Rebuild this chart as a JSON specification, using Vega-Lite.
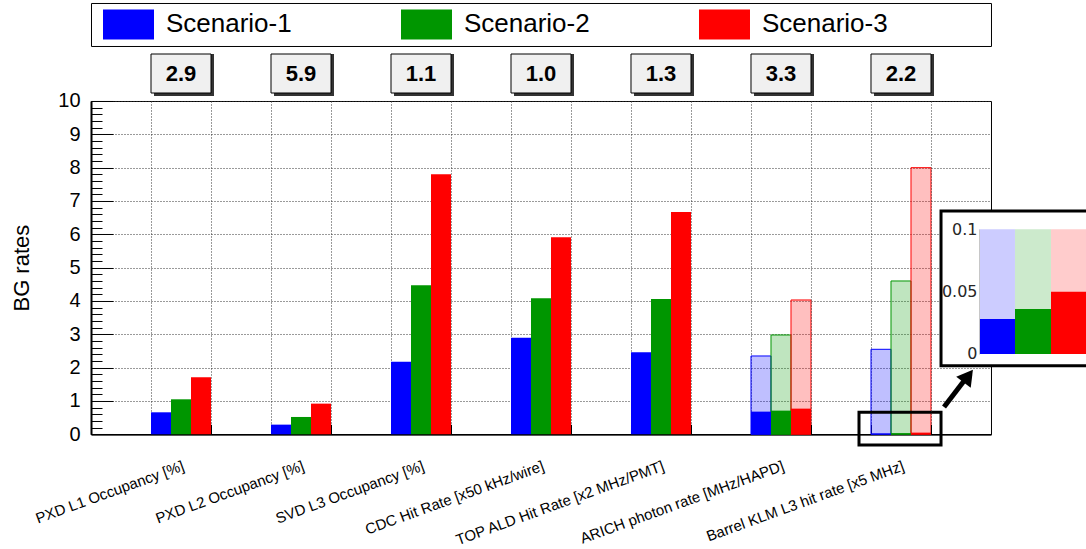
{
  "$schema": "https://vega.github.io/schema/vega-lite/v6.json",
  "width": 900,
  "height": 333.3,
  "autosize": {"type": "none"},
  "padding": {"left": 91, "top": 101, "right": 95, "bottom": 115},
  "background": "white",
  "config": {
    "font": "Liberation Sans",
    "view": {"stroke": "black", "strokeWidth": 1},
    "axis": {"labelFont": "Liberation Sans", "titleFont": "Liberation Sans", "labelColor": "black", "titleColor": "black", "tickColor": "black", "domainColor": "black"}
  },
  "datasets": {
    "rates": [
      {"det": "PXD L1 Occupancy [%]", "scenario": "Scenario-1", "rate": 0.66, "total": null},
      {"det": "PXD L1 Occupancy [%]", "scenario": "Scenario-2", "rate": 1.05, "total": null},
      {"det": "PXD L1 Occupancy [%]", "scenario": "Scenario-3", "rate": 1.71, "total": null},
      {"det": "PXD L2 Occupancy [%]", "scenario": "Scenario-1", "rate": 0.29, "total": null},
      {"det": "PXD L2 Occupancy [%]", "scenario": "Scenario-2", "rate": 0.52, "total": null},
      {"det": "PXD L2 Occupancy [%]", "scenario": "Scenario-3", "rate": 0.92, "total": null},
      {"det": "SVD L3 Occupancy [%]", "scenario": "Scenario-1", "rate": 2.18, "total": null},
      {"det": "SVD L3 Occupancy [%]", "scenario": "Scenario-2", "rate": 4.47, "total": null},
      {"det": "SVD L3 Occupancy [%]", "scenario": "Scenario-3", "rate": 7.8, "total": null},
      {"det": "CDC Hit Rate [x50 kHz/wire]", "scenario": "Scenario-1", "rate": 2.9, "total": null},
      {"det": "CDC Hit Rate [x50 kHz/wire]", "scenario": "Scenario-2", "rate": 4.08, "total": null},
      {"det": "CDC Hit Rate [x50 kHz/wire]", "scenario": "Scenario-3", "rate": 5.91, "total": null},
      {"det": "TOP ALD Hit Rate [x2 MHz/PMT]", "scenario": "Scenario-1", "rate": 2.46, "total": null},
      {"det": "TOP ALD Hit Rate [x2 MHz/PMT]", "scenario": "Scenario-2", "rate": 4.06, "total": null},
      {"det": "TOP ALD Hit Rate [x2 MHz/PMT]", "scenario": "Scenario-3", "rate": 6.67, "total": null},
      {"det": "ARICH photon rate [MHz/HAPD]", "scenario": "Scenario-1", "rate": 0.68, "total": 2.35},
      {"det": "ARICH photon rate [MHz/HAPD]", "scenario": "Scenario-2", "rate": 0.71, "total": 2.98},
      {"det": "ARICH photon rate [MHz/HAPD]", "scenario": "Scenario-3", "rate": 0.77, "total": 4.03},
      {"det": "Barrel KLM L3 hit rate [x5 MHz]", "scenario": "Scenario-1", "rate": 0.028, "total": 2.55},
      {"det": "Barrel KLM L3 hit rate [x5 MHz]", "scenario": "Scenario-2", "rate": 0.036, "total": 4.6},
      {"det": "Barrel KLM L3 hit rate [x5 MHz]", "scenario": "Scenario-3", "rate": 0.05, "total": 8.0}
    ],
    "ratios": [
      {"det": "PXD L1 Occupancy [%]", "ratio": "2.9"},
      {"det": "PXD L2 Occupancy [%]", "ratio": "5.9"},
      {"det": "SVD L3 Occupancy [%]", "ratio": "1.1"},
      {"det": "CDC Hit Rate [x50 kHz/wire]", "ratio": "1.0"},
      {"det": "TOP ALD Hit Rate [x2 MHz/PMT]", "ratio": "1.3"},
      {"det": "ARICH photon rate [MHz/HAPD]", "ratio": "3.3"},
      {"det": "Barrel KLM L3 hit rate [x5 MHz]", "ratio": "2.2"}
    ]
  },
  "layer": [
    {
      "layer": [
        {
          "data": {"name": "rates"},
          "transform": [{"filter": "isValid(datum.total)"}],
          "mark": {"type": "bar", "fillOpacity": 0.25, "strokeWidth": 1},
          "encoding": {
            "x": {"field": "det", "type": "nominal",
              "scale": {"domain": ["PXD L1 Occupancy [%]", "PXD L2 Occupancy [%]", "SVD L3 Occupancy [%]", "CDC Hit Rate [x50 kHz/wire]", "TOP ALD Hit Rate [x2 MHz/PMT]", "ARICH photon rate [MHz/HAPD]", "Barrel KLM L3 hit rate [x5 MHz]"], "paddingInner": 0.5, "paddingOuter": 0.5},
              "axis": {"orient": "bottom", "title": null, "ticks": false, "grid": false, "domain": true, "domainWidth": 1.5, "labelAngle": -20, "labelAlign": "right", "labelBaseline": "top", "labelPadding": 24, "labelFontSize": 15, "labelLimit": 400, "labelOverlap": false}},
            "xOffset": {"field": "scenario", "type": "nominal", "scale": {"domain": ["Scenario-1", "Scenario-2", "Scenario-3"], "paddingInner": 0, "paddingOuter": 0}},
            "y": {"field": "total", "type": "quantitative", "scale": {"domain": [0, 10], "nice": false},
              "axis": {"orient": "left", "values": [0, 1, 2, 3, 4, 5, 6, 7, 8, 9, 10], "tickSize": -22, "labelPadding": 33, "labelFontSize": 20, "labelFlush": false, "labelOverlap": false, "grid": true, "gridColor": "#333", "gridDash": [1, 2], "domainWidth": 2, "title": "BG rates", "titleFontSize": 22, "titleFontWeight": "normal", "titlePadding": 24}},
            "color": {"field": "scenario", "type": "nominal", "scale": {"domain": ["Scenario-1", "Scenario-2", "Scenario-3"], "range": ["#0000ff", "#009600", "#ff0000"]}},
            "stroke": {"field": "scenario", "type": "nominal", "scale": {"domain": ["Scenario-1", "Scenario-2", "Scenario-3"], "range": ["#0000ff", "#009600", "#ff0000"]}, "legend": null}
          }
        },
        {
          "data": {"name": "rates"},
          "mark": {"type": "bar"},
          "encoding": {
            "x": {"field": "det", "type": "nominal",
              "axis": {"orient": "bottom", "bandPosition": 0, "labels": false, "title": null, "domain": false, "ticks": true, "tickSize": -10, "grid": true, "gridColor": "#333", "gridDash": [1, 2]}},
            "xOffset": {"field": "scenario", "type": "nominal"},
            "y": {"field": "rate", "type": "quantitative",
              "axis": {"orient": "left", "values": [0.2, 0.4, 0.6, 0.8, 1.2, 1.4, 1.6, 1.8, 2.2, 2.4, 2.6, 2.8, 3.2, 3.4, 3.6, 3.8, 4.2, 4.4, 4.6, 4.8, 5.2, 5.4, 5.6, 5.8, 6.2, 6.4, 6.6, 6.8, 7.2, 7.4, 7.6, 7.8, 8.2, 8.4, 8.6, 8.8, 9.2, 9.4, 9.6, 9.8], "tickSize": -11, "labels": false, "domain": false, "grid": false, "title": null}},
            "color": {"field": "scenario", "type": "nominal",
              "legend": {"orient": "none", "legendX": 0, "legendY": -98, "direction": "horizontal", "columns": 3, "title": "Scenario", "titleOrient": "right", "titleOpacity": 0, "titleFontSize": 20, "titlePadding": 12, "symbolType": "M-1.7,-1H1.7V1H-1.7Z", "symbolSize": 900, "symbolStrokeWidth": 0, "symbolOpacity": 1, "symbolOffset": 16, "labelOffset": 22.5, "labelFontSize": 26, "labelFont": "Liberation Sans", "labelColor": "black", "labelLimit": 400, "columnPadding": 103, "padding": 6.5, "strokeColor": "black", "fillColor": "white"}}
          }
        },
        {
          "data": {"name": "ratios"},
          "mark": {"type": "rect", "fill": "#333333", "xOffset": 3, "yOffset": 3},
          "encoding": {
            "x": {"field": "det", "type": "nominal",
              "axis": {"orient": "bottom", "bandPosition": 1, "labels": false, "title": null, "domain": false, "ticks": true, "tickSize": -10, "grid": true, "gridColor": "#333", "gridDash": [1, 2]}},
            "y": {"datum": 10.24, "type": "quantitative", "axis": null},
            "y2": {"datum": 11.41}
          }
        },
        {
          "data": {"name": "ratios"},
          "mark": {"type": "rect", "fill": "#f0f0f0", "stroke": "black", "strokeWidth": 1},
          "encoding": {
            "x": {"field": "det", "type": "nominal", "axis": null},
            "y": {"datum": 10.24, "type": "quantitative", "axis": null},
            "y2": {"datum": 11.41}
          }
        },
        {
          "data": {"name": "ratios"},
          "mark": {"type": "text", "fontSize": 22, "fontWeight": "bold", "color": "black", "baseline": "middle", "align": "center"},
          "encoding": {
            "x": {"field": "det", "type": "nominal", "axis": null},
            "y": {"datum": 10.82, "type": "quantitative", "axis": null},
            "text": {"field": "ratio"}
          }
        }
      ],
      "resolve": {"axis": {"x": "independent", "y": "independent"}}
    },
    {
      "data": {"values": [{}]},
      "layer": [
        {
          "mark": {"type": "rect", "fill": "white", "stroke": "black", "strokeWidth": 3},
          "encoding": {
            "x": {"datum": 14.167, "type": "quantitative", "scale": {"domain": [0, 15], "nice": false, "zero": false}, "axis": null},
            "x2": {"datum": 17},
            "y": {"datum": 6.7, "type": "quantitative", "scale": {"domain": [0, 10], "nice": false}, "axis": null},
            "y2": {"datum": 2.06}
          }
        },
        {
          "mark": {"type": "rect", "fillOpacity": 0, "stroke": "black", "strokeWidth": 3},
          "encoding": {
            "x": {"datum": 12.8, "type": "quantitative"},
            "x2": {"datum": 14.167},
            "y": {"datum": 0.66, "type": "quantitative"},
            "y2": {"datum": -0.32}
          }
        },
        {
          "mark": {"type": "rule", "strokeWidth": 5, "color": "black"},
          "encoding": {
            "x": {"datum": 14.217, "type": "quantitative"},
            "x2": {"datum": 14.6},
            "y": {"datum": 0.82, "type": "quantitative"},
            "y2": {"datum": 1.72}
          }
        },
        {
          "mark": {"type": "point", "shape": "triangle-up", "filled": true, "color": "black", "opacity": 1, "size": 330, "angle": 37},
          "encoding": {
            "x": {"datum": 14.62, "type": "quantitative"},
            "y": {"datum": 1.75, "type": "quantitative"}
          }
        }
      ]
    },
    {
      "data": {"name": "rates"},
      "transform": [{"filter": "datum.det == 'Barrel KLM L3 hit rate [x5 MHz]'"}],
      "layer": [
        {
          "mark": {"type": "bar", "fillOpacity": 0.2},
          "encoding": {
            "x": {"field": "scenario", "type": "nominal", "scale": {"domain": ["Scenario-1", "Scenario-2", "Scenario-3"], "range": [888, 996], "paddingInner": 0, "paddingOuter": 0}, "axis": null},
            "y": {"field": "total", "type": "quantitative", "scale": {"domain": [0, 0.1], "range": [253, 128.3], "clamp": true, "nice": false, "zero": true}},
            "color": {"field": "scenario", "type": "nominal"}
          }
        },
        {
          "mark": {"type": "bar"},
          "encoding": {
            "x": {"field": "scenario", "type": "nominal", "axis": null},
            "y": {"field": "rate", "type": "quantitative",
              "axis": {"orient": "left", "offset": -888, "zindex": 3, "values": [0, 0.05, 0.1], "format": "~g", "ticks": false, "grid": false, "domain": true, "domainColor": "#c8c8c8", "labelFont": "DejaVu Sans", "labelFontSize": 16, "labelColor": "#262626", "labelPadding": 2, "labelFlush": false, "labelOverlap": false, "title": null}},
            "color": {"field": "scenario", "type": "nominal"}
          }
        }
      ]
    }
  ],
  "resolve": {"scale": {"x": "independent", "y": "independent"}}
}
